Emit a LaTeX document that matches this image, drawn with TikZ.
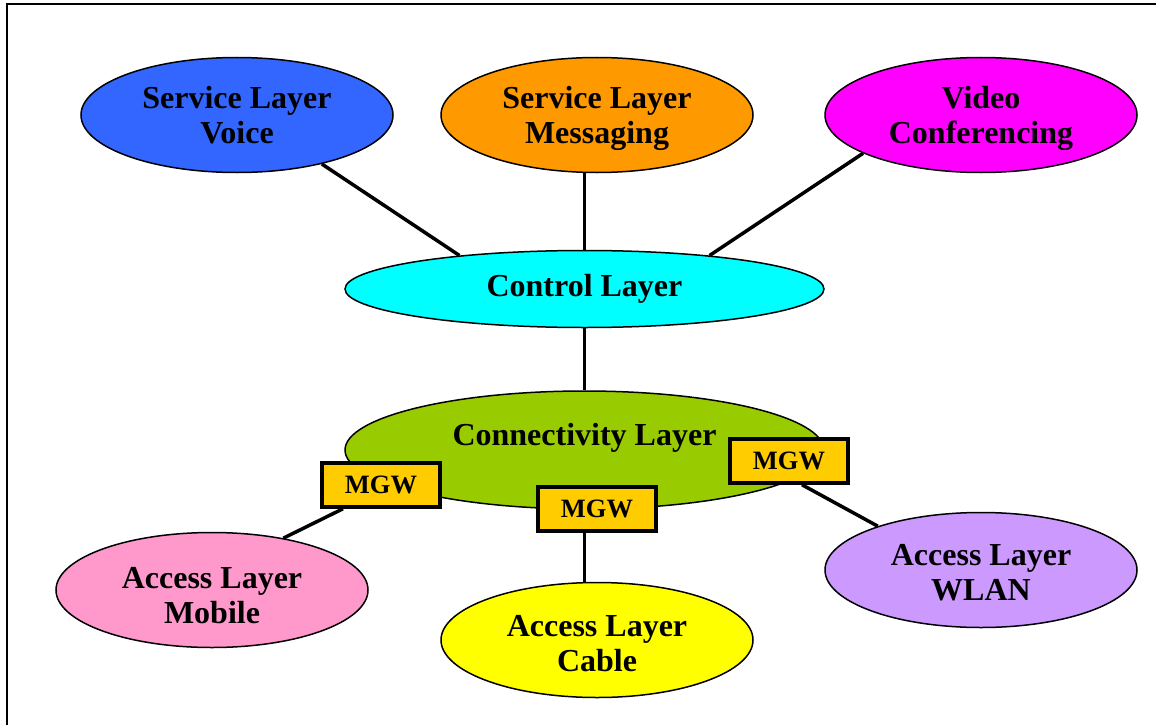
\documentclass[tikz,border=0pt]{standalone}
\usepackage{fontspec}
\setmainfont{Liberation Serif}
\usetikzlibrary{shapes.geometric,calc,backgrounds}
\definecolor{cvoice}{HTML}{3366FF}
\definecolor{cmsg}{HTML}{FF9900}
\definecolor{cvideo}{HTML}{FF00FF}
\definecolor{cctrl}{HTML}{00FFFF}
\definecolor{cconn}{HTML}{99CC00}
\definecolor{cmobile}{HTML}{FF99CC}
\definecolor{ccable}{HTML}{FFFF00}
\definecolor{cwlan}{HTML}{CC99FF}
\definecolor{cmgw}{HTML}{FFCC00}
\begin{document}
\begin{tikzpicture}[x=1pt,y=-1pt,
  layerell/.style={ellipse,draw=black,line width=1.5pt,inner sep=0pt,
    minimum width=312pt,minimum height=115pt,
    font=\bfseries\fontsize{32}{35}\selectfont,align=center},
  link/.style={line width=3.5pt},
  mgwbox/.style={draw=black,fill=cmgw,line width=3.5pt,minimum width=118pt,
    minimum height=44pt,inner sep=0pt,font=\bfseries\fontsize{26.5}{28}\selectfont},
  lbl/.style={font=\bfseries\fontsize{32}{35}\selectfont,align=center,inner sep=0pt}]
\useasboundingbox (0,0) rectangle (1156,725);
\draw[line width=2pt] (7,725) -- (7,4) -- (1156,4);

% top service layer
\node[layerell,fill=cvoice,text depth=0pt] (voice) at (237,115) {Service Layer\\Voice};
\node[layerell,fill=cmsg,text depth=0pt] (msg) at (597,115) {Service Layer\\Messaging};
\node[layerell,fill=cvideo,text depth=0pt] (video) at (981,115) {Video\\Conferencing};

% control and connectivity
\node[layerell,fill=cctrl,minimum width=479pt,minimum height=77pt] (ctrl) at (584.5,289) {Control Layer};
\node[layerell,fill=cconn,minimum width=479pt,minimum height=118pt] (conn) at (584.5,450) {};
\node[lbl,text depth=0pt] (conntext) at (584.5,434) {Connectivity Layer};

% access layers
\node[layerell,fill=cmobile] (mobile) at (212,590) {};
\node[lbl] (mobiletext) at (212,596) {Access Layer\\Mobile};
\node[layerell,fill=ccable] (cable) at (597,640) {};
\node[lbl] (cabletext) at (597,644) {Access Layer\\Cable};
\node[layerell,fill=cwlan] (wlan) at (981,570) {};
\node[lbl] (wlantext) at (981,572.5) {Access Layer\\WLAN};

% media gateways
\node[mgwbox] (mgw1) at (381,485) {MGW};
\node[mgwbox] (mgw2) at (597,509) {MGW};
\node[mgwbox] (mgw3) at (789,461) {MGW};

\begin{scope}[on background layer]
\draw[link] (voice.330) -- (ctrl.165);
\draw[link] (ctrl.north |- msg.south) -- (ctrl.north);
\draw[link] (video.198) -- (ctrl.15);
\draw[link] (ctrl.south) -- (conn.north);
\draw[link] (mobile.36) -- ($(mgw1.south)+(-38,0)$);
\draw[link] (conn.center |- mgw2.south) -- (conn.center |- cable.north);
\draw[link] (wlan.157) -- ($(mgw3.south)+(13,0)$);
\end{scope}
\end{tikzpicture}
\end{document}
